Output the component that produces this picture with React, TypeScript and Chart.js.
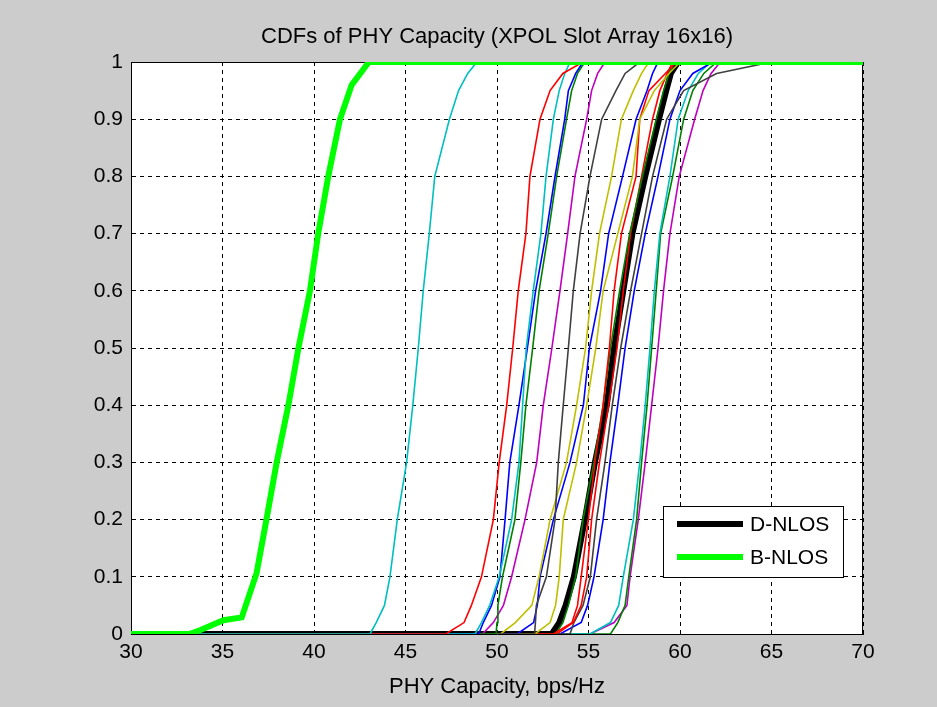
import React, { useEffect, useRef } from "react";
import { Chart, registerables } from "chart.js";

Chart.register(...registerables);

const TITLE = "CDFs of PHY Capacity (XPOL Slot Array 16x16)";
const X_TITLE = "PHY Capacity, bps/Hz";
const X_MIN = 30;
const X_MAX = 70;
const X_STEP = 5;
const Y_MIN = 0;
const Y_MAX = 1;
const Y_STEP = 0.1;

// cumulative probability levels shared by the thin CDF curves
const P_LEVELS = [0, 0.02, 0.05, 0.1, 0.2, 0.3, 0.4, 0.5, 0.6, 0.7, 0.8, 0.9, 0.95, 0.98, 1];

// capacity (bps/Hz) at each probability level
const CYAN_C = [43.06, 43.4, 43.85, 44.15, 44.55, 45.06, 45.4, 45.7, 45.97, 46.3, 46.6, 47.4, 47.9, 48.4, 48.9];
const RED_A = [47.2, 48.2, 48.6, 49.15, 49.8, 50.12, 50.53, 50.86, 51.16, 51.58, 51.8, 52.35, 52.9, 53.6, 54.7];
const CYAN_A = [48.8, 49.15, 49.6, 50.12, 50.8, 51.2, 51.4, 51.6, 51.98, 52.4, 52.68, 53.08, 53.4, 53.7, 54.0];
const BLUE_A = [49.0, 49.25, 49.7, 50.16, 50.44, 50.7, 51.2, 51.66, 52.11, 52.68, 53.17, 53.7, 53.9, 54.3, 54.7];
const GREEN_A = [49.95, 50.0, 50.05, 50.3, 50.98, 51.3, 51.58, 51.95, 52.3, 52.8, 53.26, 53.8, 54.08, 54.4, 54.8];
const MAGENTA_A = [49.2, 49.8, 50.35, 50.8, 51.53, 52.17, 52.53, 53.0, 53.44, 53.86, 54.26, 54.9, 55.17, 55.5, 55.9];
const GRAY_A = [52.05, 52.1, 52.15, 52.7, 53.17, 53.35, 53.62, 53.9, 54.17, 54.54, 55.08, 55.72, 56.5, 57.0, 57.8];
const YELLOW_A = [50.2, 51.0, 51.9, 52.3, 52.9, 53.8, 54.35, 54.84, 55.17, 55.6, 56.26, 56.8, 57.45, 57.9, 58.3];
const BLUE_B = [51.1, 52.0, 52.2, 52.35, 53.08, 53.99, 54.72, 55.05, 55.66, 56.1, 56.86, 57.6, 58.2, 58.5, 58.8];
const YELLOW_B = [52.08, 52.9, 53.2, 53.4, 53.62, 54.35, 54.9, 55.4, 55.8, 56.6, 57.4, 57.8, 58.6, 59.4, 60.0];
const RED_B = [53.08, 54.1, 54.4, 54.6, 54.99, 55.35, 55.8, 56.14, 56.4, 56.8, 57.6, 57.8, 58.3, 59.2, 59.8];
const GREEN_B = [53.2, 53.6, 53.9, 54.3, 54.7, 55.3, 55.8, 56.2, 56.7, 57.25, 57.95, 58.7, 59.1, 59.4, 59.7];
const RED_C = [53.26, 54.17, 54.6, 54.9, 55.17, 55.6, 56.1, 56.56, 56.9, 57.3, 57.9, 58.5, 58.9, 59.3, 59.6];
const GRAY_B = [53.99, 54.2, 54.7, 55.1, 55.44, 55.9, 56.3, 56.76, 57.3, 57.9, 58.5, 59.27, 60.2, 62.0, 65.0];
const BLUE_C = [53.44, 54.6, 54.95, 55.3, 55.8, 56.17, 56.6, 57.0, 57.5, 58.1, 58.8, 59.45, 60.0, 60.7, 61.8];
const CYAN_B = [55.08, 56.2, 56.65, 56.9, 57.45, 57.8, 58.1, 58.36, 58.6, 58.9, 59.45, 59.9, 60.45, 61.0, 61.7];
const GREEN_C = [56.2, 56.6, 57.0, 57.2, 57.63, 57.9, 58.2, 58.45, 58.7, 58.94, 59.6, 60.2, 60.7, 61.3, 62.0];
const MAGENTA_B = [55.08, 56.4, 57.1, 57.27, 57.72, 58.1, 58.45, 58.8, 59.1, 59.45, 59.96, 60.8, 61.26, 61.7, 62.2];

// thick averaged curves
const D_NLOS = [52.99, 53.4, 53.75, 54.2, 54.8, 55.35, 56.0, 56.4, 56.9, 57.4, 58.1, 58.85, 59.25, 59.5, 59.9];
const B_NLOS_P = [0, 0.007, 0.024, 0.029, 0.106, 0.2, 0.3, 0.4, 0.5, 0.6, 0.7, 0.8, 0.9, 0.96, 1];
const B_NLOS_X = [33.2, 33.8, 35.05, 36.05, 36.86, 37.4, 37.96, 38.6, 39.15, 39.78, 40.23, 40.78, 41.42, 42.06, 43.0];

const C_BLUE = "#0000ff";
const C_GREEN = "#008000";
const C_RED = "#ff0000";
const C_CYAN = "#00bfbf";
const C_MAGENTA = "#bf00bf";
const C_YELLOW = "#bfbf00";
const C_GRAY = "#404040";

const FONT = '"Liberation Sans", Arial, Helvetica, sans-serif';
const TICK_SIZE = 21;
const TITLE_SIZE = 22;
const LEGEND_SIZE = 21;

function curve(xs: number[], ps: number[]) {
  const pts = [{ x: X_MIN, y: Y_MIN }];
  xs.forEach((x, i) => pts.push({ x, y: ps[i] }));
  pts.push({ x: X_MAX, y: Y_MAX });
  return pts;
}

const THIN: [number[], string][] = [
  [CYAN_C, C_CYAN],
  [RED_A, C_RED],
  [CYAN_A, C_CYAN],
  [BLUE_A, C_BLUE],
  [GREEN_A, C_GREEN],
  [MAGENTA_A, C_MAGENTA],
  [GRAY_A, C_GRAY],
  [YELLOW_A, C_YELLOW],
  [BLUE_B, C_BLUE],
  [YELLOW_B, C_YELLOW],
  [RED_B, C_RED],
  [GREEN_B, C_GREEN],
  [RED_C, C_RED],
  [GRAY_B, C_GRAY],
  [BLUE_C, C_BLUE],
  [CYAN_B, C_CYAN],
  [GREEN_C, C_GREEN],
  [MAGENTA_B, C_MAGENTA],
];

const framePlugin = {
  id: "matlabFrame",
  beforeDraw(chart: any) {
    const { ctx, chartArea } = chart;
    const { left, top, right, bottom } = chartArea;
    ctx.save();
    ctx.fillStyle = "#ffffff";
    ctx.fillRect(left, top, right - left, bottom - top);
    // title centred over the plot box
    ctx.fillStyle = "#000";
    ctx.font = `${TITLE_SIZE}px ${FONT}`;
    ctx.textAlign = "center";
    ctx.textBaseline = "middle";
    ctx.fillText(TITLE, (left + right) / 2, 37);
    ctx.restore();
  },
  beforeDatasetsDraw(chart: any) {
    const { ctx, chartArea } = chart;
    const { left, top, right, bottom } = chartArea;
    ctx.save();
    ctx.strokeStyle = "#000";
    ctx.lineWidth = 1;
    ctx.setLineDash([]);
    const t = Math.round(top) + 0.5;
    const r = Math.round(right) - 0.5;
    ctx.beginPath();
    ctx.moveTo(left, t);
    ctx.lineTo(right, t);
    ctx.moveTo(r, top);
    ctx.lineTo(r, bottom);
    ctx.stroke();
    ctx.restore();
  },
  afterDraw(chart: any) {
    const { ctx, chartArea } = chart;
    const { right, bottom } = chartArea;
    const w = 180;
    const h = 71;
    const bx = Math.round(right - 20 - w);
    const by = Math.round(bottom - 57 - h);
    ctx.save();
    ctx.fillStyle = "#fff";
    ctx.fillRect(bx, by, w, h);
    ctx.strokeStyle = "#000";
    ctx.lineWidth = 1;
    ctx.setLineDash([]);
    ctx.strokeRect(bx + 0.5, by + 0.5, w, h);
    const entries = chart.data.datasets.filter((d: any) => d.label);
    const rows = [18, 51];
    entries.forEach((d: any, i: number) => {
      const y = by + rows[i];
      ctx.strokeStyle = d.borderColor;
      ctx.lineWidth = d.borderWidth;
      ctx.beginPath();
      ctx.moveTo(bx + 14, y);
      ctx.lineTo(bx + 80, y);
      ctx.stroke();
      ctx.fillStyle = "#000";
      ctx.font = `${LEGEND_SIZE}px ${FONT}`;
      ctx.textBaseline = "middle";
      ctx.textAlign = "left";
      ctx.fillText(d.label, bx + 87, y + 1);
    });
    ctx.restore();
  },
};

export default function App() {
  const ref = useRef<HTMLCanvasElement | null>(null);

  useEffect(() => {
    if (!ref.current) return;
    const datasets: any[] = [];
    datasets.push({
      label: "D-NLOS",
      data: curve(D_NLOS, P_LEVELS),
      borderColor: "#000000",
      borderWidth: 6,
      order: 5,
    });
    datasets.push({
      label: "B-NLOS",
      data: curve(B_NLOS_X, B_NLOS_P),
      borderColor: "#00ff00",
      borderWidth: 6,
      order: 0,
    });
    THIN.forEach(([xs, color]) => {
      datasets.push({
        label: "",
        data: curve(xs, P_LEVELS),
        borderColor: color,
        borderWidth: 1.6,
        order: 2,
      });
    });
    datasets.forEach((d) => {
      d.showLine = true;
      d.pointRadius = 0;
      d.pointHoverRadius = 0;
      d.tension = 0;
      d.fill = false;
      d.backgroundColor = d.borderColor;
    });

    const tickFont = { family: FONT, size: TICK_SIZE };
    const chart = new Chart(ref.current, {
      type: "scatter",
      data: { datasets },
      options: {
        responsive: false,
        animation: false,
        devicePixelRatio: 1,
        layout: { padding: { left: 0, right: 74, top: 62, bottom: 0 } },
        plugins: {
          legend: { display: false },
          tooltip: { enabled: false },
          title: { display: false },
        },
        scales: {
          x: {
            type: "linear",
            min: X_MIN,
            max: X_MAX,
            afterFit: (s: any) => {
              s.height = 73;
            },
            ticks: { stepSize: X_STEP, color: "#000", font: tickFont, padding: 6 },
            grid: { color: "#000", lineWidth: 1, drawTicks: false },
            border: { display: true, color: "#000", width: 1, dash: [4, 4] },
            title: {
              display: true,
              text: X_TITLE,
              color: "#000",
              font: { family: FONT, size: TITLE_SIZE },
              padding: { top: 0, bottom: 7 },
            },
          },
          y: {
            type: "linear",
            min: Y_MIN,
            max: Y_MAX,
            afterFit: (s: any) => {
              s.width = 131;
            },
            ticks: {
              stepSize: Y_STEP,
              color: "#000",
              font: tickFont,
              padding: 8,
              callback: (v: any) => String(Math.round(Number(v) * 10) / 10),
            },
            grid: { color: "#000", lineWidth: 1, drawTicks: false },
            border: { display: true, color: "#000", width: 1, dash: [4, 4] },
          },
        },
      } as any,
      plugins: [framePlugin],
    });
    return () => chart.destroy();
  }, []);

  return (
    <div
      style={{
        position: "fixed",
        left: 0,
        top: 0,
        width: 937,
        height: 707,
        background: "#cccccc",
      }}
    >
      <canvas ref={ref} width={937} height={707} style={{ display: "block" }} />
    </div>
  );
}
